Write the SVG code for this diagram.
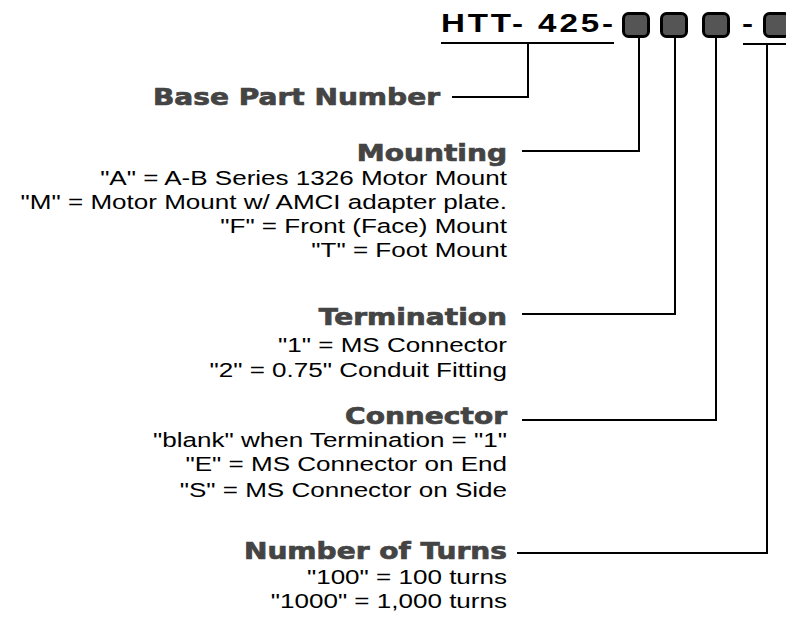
<svg xmlns="http://www.w3.org/2000/svg" width="786" height="629" viewBox="0 0 786 629">
<style>
.hd{font-family:"Liberation Sans",Arial,sans-serif;font-weight:bold;font-size:26.5px;fill:#000}
.lb{font-family:"DejaVu Sans","Liberation Sans",sans-serif;font-weight:bold;font-size:23px;fill:#444;stroke:#444;stroke-width:0.7;text-anchor:end}
.tx{font-family:"Liberation Sans",Arial,sans-serif;font-size:20.5px;fill:#000;text-anchor:end}
.box{fill:#555;stroke:#000;stroke-width:3}
.ln{fill:none;stroke:#000;stroke-width:2}
</style>
<rect width="786" height="629" fill="#fff"/>
<g id="partnumber">
<text class="hd" transform="translate(441,32) scale(1.25,1)" textLength="137.6" lengthAdjust="spacing">HTT- 425-</text>
<text class="hd" transform="translate(742,32) scale(1.25,1)">-</text>
<rect class="box" x="623.5" y="13.5" width="25" height="23" rx="5"/>
<rect class="box" x="661.5" y="13.5" width="25" height="23" rx="5"/>
<rect class="box" x="703.5" y="13.5" width="25" height="23" rx="5"/>
<rect class="box" x="764.5" y="13.5" width="25" height="23" rx="5"/>
</g>
<g id="connectors">
<path class="ln" d="M441 43H614"/>
<path class="ln" d="M743 44H786"/>
<path class="ln" d="M528 43V97H452"/>
<path class="ln" d="M639 37V151H522"/>
<path class="ln" d="M675 37V314H522"/>
<path class="ln" d="M716 37V420H522"/>
<path class="ln" d="M767 44V553H517"/>
</g>
<g id="base">
<text class="lb" transform="translate(440,105) scale(1.22,1)">Base Part Number</text>
</g>
<g id="mounting">
<text class="lb" transform="translate(507,161) scale(1.22,1)">Mounting</text>
<g transform="translate(507,0) scale(1.27,1)">
<text class="tx" x="0" y="185">"A" = A-B Series 1326 Motor Mount</text>
<text class="tx" x="0" y="209">"M" = Motor Mount w/ AMCI adapter plate.</text>
<text class="tx" x="0" y="233">"F" = Front (Face) Mount</text>
<text class="tx" x="0" y="257">"T" = Foot Mount</text>
</g>
</g>
<g id="termination">
<text class="lb" transform="translate(507,325) scale(1.22,1)">Termination</text>
<g transform="translate(507,0) scale(1.27,1)">
<text class="tx" x="0" y="352">"1" = MS Connector</text>
<text class="tx" x="0" y="377">"2" = 0.75" Conduit Fitting</text>
</g>
</g>
<g id="connector">
<text class="lb" transform="translate(507,424) scale(1.22,1)">Connector</text>
<g transform="translate(507,0) scale(1.27,1)">
<text class="tx" x="0" y="447">"blank" when Termination = "1"</text>
<text class="tx" x="0" y="471">"E" = MS Connector on End</text>
<text class="tx" x="0" y="497">"S" = MS Connector on Side</text>
</g>
</g>
<g id="turns">
<text class="lb" transform="translate(507,559) scale(1.22,1)">Number of Turns</text>
<g transform="translate(507,0) scale(1.27,1)">
<text class="tx" x="0" y="584">"100" = 100 turns</text>
<text class="tx" x="0" y="608">"1000" = 1,000 turns</text>
</g>
</g>
</svg>
